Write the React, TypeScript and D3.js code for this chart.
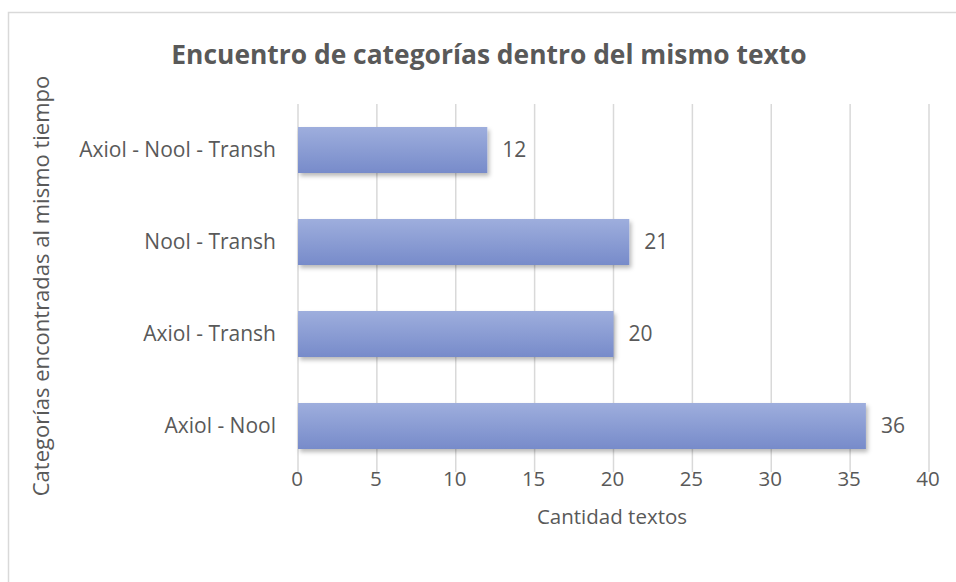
import * as d3 from "d3";

const categories = ["Axiol - Nool", "Axiol - Transh", "Nool - Transh", "Axiol - Nool - Transh"];
const values = [36, 20, 21, 12];
const xTicks = [0, 5, 10, 15, 20, 25, 30, 35, 40];

const title = "Encuentro de categorías dentro del mismo texto";
const xTitle = "Cantidad textos";
const yTitle = "Categorías encontradas al mismo tiempo";

const textColor = "#595959";
const gridColor = "#d9d9d9";
const font = "'Open Sans', sans-serif";

export default function App() {
  const width = 956;
  const height = 582;

  const plot = { left: 298, right: 929, top: 104, bottom: 472 };

  const x = d3.scaleLinear().domain([0, 40]).range([plot.left, plot.right]);
  // top category is the last one in the list, like Excel does
  const y = d3
    .scaleBand()
    .domain([...categories].reverse())
    .range([plot.top, plot.bottom])
    .paddingInner(0.5)
    .paddingOuter(0.25);

  return (
    <svg
      width={width}
      height={height}
      style={{ position: "absolute", left: 0, top: 0, background: "#fff" }}
      fontFamily={font}
    >
      <defs>
        <linearGradient id="barGrad" x1="0" y1="0" x2="0" y2="1">
          <stop offset="0%" stopColor="#9eaedd" />
          <stop offset="100%" stopColor="#778bca" />
        </linearGradient>
        <filter id="shadow" x="-10%" y="-30%" width="120%" height="170%">
          <feDropShadow dx="2" dy="3" stdDeviation="2" floodColor="#000" floodOpacity="0.28" />
        </filter>
      </defs>

      <rect x={8.5} y={12.5} width={width} height={height} fill="#fff" stroke={gridColor} strokeWidth={1.5} />

      <text x={489} y={64} textAnchor="middle" fontSize={26.4} fontWeight="bold" fill={textColor}>
        {title}
      </text>

      {xTicks.map((t) => (
        <g key={t}>
          <line x1={x(t)} x2={x(t)} y1={plot.top} y2={plot.bottom} stroke={gridColor} strokeWidth={1.5} />
          <text x={x(t) - 1} y={486} textAnchor="middle" fontSize={20.5} fill={textColor}>
            {t}
          </text>
        </g>
      ))}

      {categories.map((c, i) => {
        const by = y(c) ?? 0;
        const bh = y.bandwidth();
        return (
          <g key={c}>
            <rect
              x={x(0)}
              y={by}
              width={x(values[i]) - x(0)}
              height={bh}
              fill="url(#barGrad)"
              filter="url(#shadow)"
            />
            <text x={276} y={by + bh / 2} dy="0.35em" textAnchor="end" fontSize={21} fill={textColor}>
              {c}
            </text>
            <text x={x(values[i]) + 15} y={by + bh / 2} dy="0.35em" fontSize={21} fill={textColor}>
              {values[i]}
            </text>
          </g>
        );
      })}

      <text x={612} y={524} textAnchor="middle" fontSize={20.5} fill={textColor}>
        {xTitle}
      </text>

      <text
        transform={`translate(49, 286) rotate(-90)`}
        textAnchor="middle"
        fontSize={22}
        fill={textColor}
      >
        {yTitle}
      </text>
    </svg>
  );
}
